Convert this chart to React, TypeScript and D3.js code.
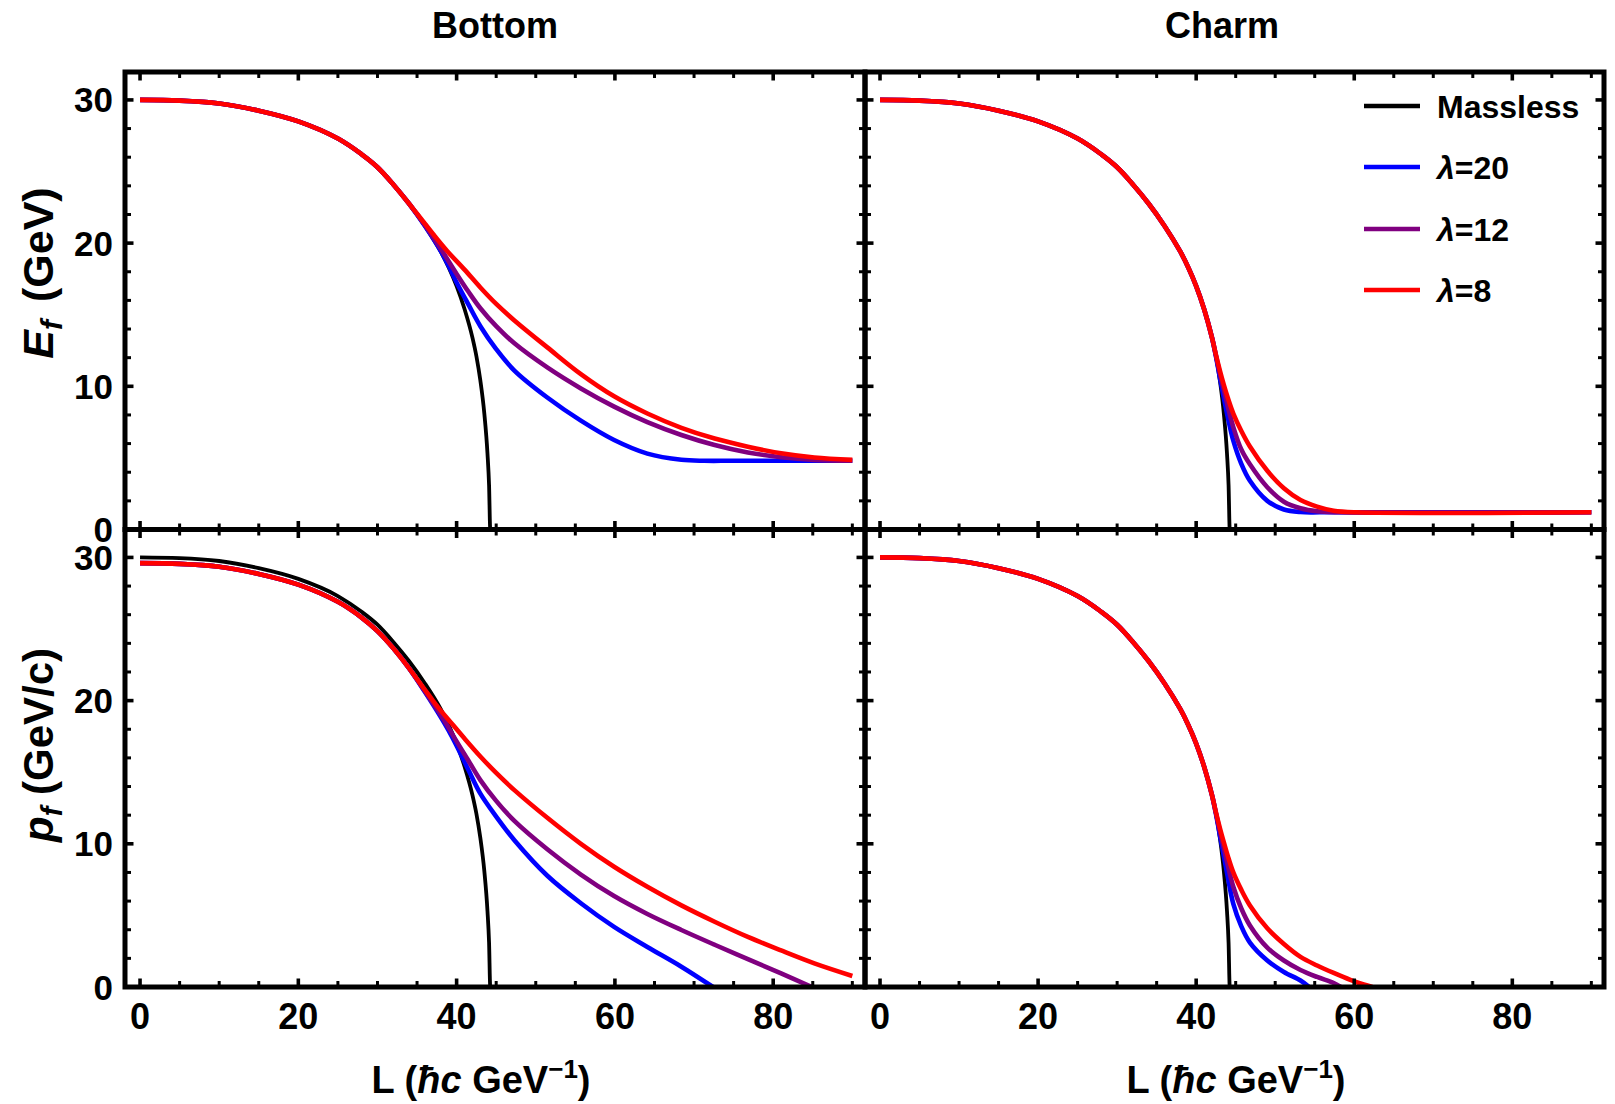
import React from "react";
import * as d3 from "d3";

// ---------- data ----------
// Massless curve (same in every panel, p = E for a massless parton)
const masslessL = [0, 5, 10, 15, 20, 25, 28, 30, 32, 34, 36, 38, 39, 40, 41, 42, 42.5, 43, 43.5, 43.9, 44.1, 44.25, 60, 90];
const masslessV = [30, 29.95, 29.75, 29.25, 28.5, 27.3, 26.2, 25.3, 24.1, 22.75, 21.2, 19.4, 18.3, 17.0, 15.4, 13.4, 12.1, 10.4, 8.1, 5.3, 3.1, 0, 0, 0];

// Bottom quark, final energy E_f (identical to the massless curve up to L = 34)
const bottomE_blueL = [36, 38, 39, 40, 41.5, 43, 45, 47.3, 51.5, 55.7, 59.9, 64.1, 68.4, 71.3, 75, 90];
const bottomE_blueV = [21.2, 19.45, 18.4, 17.25, 15.7, 14.2, 12.6, 11.1, 9.2, 7.6, 6.25, 5.3, 4.87, 4.8, 4.8, 4.8];
const bottomE_purpleL = [36, 38, 40, 41.5, 43, 45, 47.3, 51.5, 55.7, 59.9, 64.1, 68.4, 72.6, 76.8, 81, 85.2, 90];
const bottomE_purpleV = [21.25, 19.6, 17.85, 16.6, 15.45, 14.2, 13.0, 11.3, 9.85, 8.58, 7.5, 6.6, 5.9, 5.38, 5.05, 4.86, 4.8];
const bottomE_redL = [35, 36, 37, 38.8, 41, 43, 45, 47.3, 51.5, 55.7, 59.9, 64.1, 68.4, 72.6, 76.8, 81, 85.2, 90];
const bottomE_redV = [22.05, 21.35, 20.65, 19.45, 18.15, 16.9, 15.75, 14.6, 12.7, 10.85, 9.3, 8.1, 7.1, 6.35, 5.78, 5.32, 5.03, 4.86];

// Bottom quark, final momentum p_f (massive curves share a common start)
const bottomP_commonL = [0, 5, 10, 15, 20, 25, 28, 30, 32, 34];
const bottomP_commonV = [29.6, 29.55, 29.35, 28.85, 28.1, 26.9, 25.8, 24.85, 23.65, 22.25];
const bottomP_blueL = [36, 38, 39, 40, 41.5, 43, 45, 47.3, 51.5, 55.7, 59.9, 64.1, 68.4, 72.4];
const bottomP_blueV = [20.6, 18.85, 17.9, 16.85, 15.15, 13.5, 11.9, 10.25, 7.75, 5.85, 4.2, 2.8, 1.42, 0];
const bottomP_purpleL = [36, 38, 39, 40, 41.5, 43, 45, 47.3, 51.5, 55.7, 59.9, 64.1, 68.4, 72.6, 76.8, 81, 84.9];
const bottomP_purpleV = [20.65, 19.0, 18.1, 17.15, 15.8, 14.45, 13.0, 11.6, 9.6, 7.85, 6.35, 5.1, 3.98, 2.95, 1.95, 0.95, 0];
const bottomP_redL = [35, 36, 37, 38, 39, 41, 43, 45, 47.3, 51.5, 55.7, 59.9, 64.1, 68.4, 72.6, 76.8, 81, 85.2, 90];
const bottomP_redV = [21.5, 20.75, 20.0, 19.3, 18.65, 17.35, 16.1, 14.95, 13.75, 11.8, 10.0, 8.4, 7.0, 5.7, 4.56, 3.5, 2.55, 1.65, 0.77];

// Charm quark, final energy E_f (identical to the massless curve up to L = 42)
const charmE_blueL = [42.5, 43, 43.5, 44, 44.7, 45.7, 46.8, 49, 51.1, 53.2, 56, 90];
const charmE_blueV = [12.1, 10.6, 9.2, 7.85, 6.2, 4.6, 3.4, 2.0, 1.4, 1.22, 1.2, 1.2];
const charmE_purpleL = [42.5, 43, 43.5, 44, 44.7, 45.7, 46.8, 49, 51.1, 53.2, 55.3, 58, 90];
const charmE_purpleV = [12.15, 10.9, 9.75, 8.6, 7.15, 5.6, 4.55, 2.95, 1.94, 1.48, 1.27, 1.2, 1.2];
const charmE_redL = [42.5, 43, 43.5, 44, 44.7, 45.7, 46.8, 49, 51.1, 53.2, 55.3, 57.4, 60.3, 90];
const charmE_redV = [12.2, 11.1, 10.1, 9.2, 8.1, 6.9, 5.8, 4.1, 2.88, 2.06, 1.6, 1.31, 1.2, 1.2];

// Charm quark, final momentum p_f (identical to the massless curve up to L = 42)
const charmP_blueL = [42.5, 43, 43.5, 44, 44.7, 45.7, 46.8, 49, 51.1, 53.2, 54.3];
const charmP_blueV = [12.1, 10.6, 9.15, 7.7, 5.8, 4.25, 3.1, 1.85, 1.05, 0.45, 0];
const charmP_purpleL = [42.5, 43, 43.5, 44, 44.7, 45.7, 46.8, 49, 51.1, 53.2, 55.3, 57.4, 58.3];
const charmP_purpleV = [12.15, 10.9, 9.7, 8.5, 7.0, 5.5, 4.3, 2.75, 1.85, 1.19, 0.7, 0.28, 0];
const charmP_redL = [42.5, 43, 43.5, 44, 44.7, 45.7, 46.8, 49, 51.1, 53.2, 55.3, 57.4, 59.5, 61.2, 62.3];
const charmP_redV = [12.2, 11.1, 10.1, 9.15, 8.0, 6.8, 5.7, 4.1, 3.0, 2.1, 1.5, 0.98, 0.5, 0.17, 0];

const seriesNames = ["Massless", "λ=20", "λ=12", "λ=8"];
const seriesColors = ["#000000", "#0000ff", "#800080", "#ff0000"];
const columnTitles = ["Bottom", "Charm"];
const xMajorTicks = [0, 20, 40, 60, 80];
const yMajorTicks = [0, 10, 20, 30];

// ---------- layout ----------
const W = 1615;
const H = 1104;
const colX: [number, number][] = [[125, 865], [865, 1604]];
const rowY: [number, number][] = [[72, 529.5], [529.5, 987]];
const xDomain: [number, number] = [-1.9, 91.6];
const yDomain: [number, number] = [0, 31.95];
const FONT = "'Liberation Sans', Arial, Helvetica, sans-serif";

type Pt = [number, number];
const zip = (L: number[], V: number[]): Pt[] => L.map((l, i) => [l, V[i]] as Pt);
const massless = zip(masslessL, masslessV);
const masslessUpTo = (lMax: number) => massless.filter((d) => d[0] <= lMax);
const bottomPCommon = zip(bottomP_commonL, bottomP_commonV);

const panels: { row: number; col: number; data: Pt[][] }[] = [
  {
    row: 0,
    col: 0,
    data: [
      massless,
      [...masslessUpTo(34), ...zip(bottomE_blueL, bottomE_blueV)],
      [...masslessUpTo(34), ...zip(bottomE_purpleL, bottomE_purpleV)],
      [...masslessUpTo(34), ...zip(bottomE_redL, bottomE_redV)],
    ],
  },
  {
    row: 0,
    col: 1,
    data: [
      massless,
      [...masslessUpTo(42), ...zip(charmE_blueL, charmE_blueV)],
      [...masslessUpTo(42), ...zip(charmE_purpleL, charmE_purpleV)],
      [...masslessUpTo(42), ...zip(charmE_redL, charmE_redV)],
    ],
  },
  {
    row: 1,
    col: 0,
    data: [
      massless,
      [...bottomPCommon, ...zip(bottomP_blueL, bottomP_blueV)],
      [...bottomPCommon, ...zip(bottomP_purpleL, bottomP_purpleV)],
      [...bottomPCommon, ...zip(bottomP_redL, bottomP_redV)],
    ],
  },
  {
    row: 1,
    col: 1,
    data: [
      massless,
      [...masslessUpTo(42), ...zip(charmP_blueL, charmP_blueV)],
      [...masslessUpTo(42), ...zip(charmP_purpleL, charmP_purpleV)],
      [...masslessUpTo(42), ...zip(charmP_redL, charmP_redV)],
    ],
  },
];

function Panel({ row, col, data }: { row: number; col: number; data: Pt[][] }) {
  const [x0, x1] = colX[col];
  const [y0, y1] = rowY[row];
  const x = d3.scaleLinear().domain(xDomain).range([x0, x1]);
  const y = d3.scaleLinear().domain(yDomain).range([y1, y0]);
  const smooth = d3
    .line<Pt>()
    .x((d) => x(d[0]))
    .y((d) => y(d[1]))
    .curve(d3.curveCatmullRom.alpha(0.5));
  const steep = d3
    .line<Pt>()
    .x((d) => x(d[0]))
    .y((d) => y(d[1]))
    .curve(d3.curveMonotoneX);
  const clipId = `clip-${row}-${col}`;
  const xMinor = d3.range(0, 91, 5).filter((v) => !xMajorTicks.includes(v));
  const yMinor = d3.range(0, 31, 2).filter((v) => !yMajorTicks.includes(v));
  const MAJ = 8.5;
  const MIN = 6;
  const ticks: JSX.Element[] = [];
  const addX = (v: number, len: number, w: number, key: string) => {
    ticks.push(<line key={key + "b"} x1={x(v)} x2={x(v)} y1={y1} y2={y1 - len} stroke="#000" strokeWidth={w} />);
    ticks.push(<line key={key + "t"} x1={x(v)} x2={x(v)} y1={y0} y2={y0 + len} stroke="#000" strokeWidth={w} />);
  };
  const addY = (v: number, len: number, w: number, key: string) => {
    ticks.push(<line key={key + "l"} x1={x0} x2={x0 + len} y1={y(v)} y2={y(v)} stroke="#000" strokeWidth={w} />);
    ticks.push(<line key={key + "r"} x1={x1} x2={x1 - len} y1={y(v)} y2={y(v)} stroke="#000" strokeWidth={w} />);
  };
  xMajorTicks.forEach((v) => addX(v, MAJ, 3.6, `xM${v}`));
  xMinor.forEach((v) => addX(v, MIN, 3, `xm${v}`));
  yMajorTicks.forEach((v) => addY(v, MAJ, 3.6, `yM${v}`));
  yMinor.forEach((v) => addY(v, MIN, 3, `ym${v}`));

  return (
    <g>
      <defs>
        <clipPath id={clipId}>
          <rect x={x0} y={y0} width={x1 - x0} height={y1 - y0} />
        </clipPath>
      </defs>
      <g clipPath={`url(#${clipId})`}>
        {data.map((s, i) => (
          <path
            key={i}
            d={(i === 0 ? steep(s) : smooth(s)) || ""}
            fill="none"
            stroke={seriesColors[i]}
            strokeWidth={i === 0 ? 3.8 : 4.6}
            strokeLinejoin="round"
            strokeLinecap="butt"
          />
        ))}
      </g>
      {ticks}
      <rect x={x0} y={y0} width={x1 - x0} height={y1 - y0} fill="none" stroke="#000" strokeWidth={5} />
      {col === 0 &&
        yMajorTicks.map((v) => (
          <text key={`yl${v}`} x={113} y={y(v) + 12.5} textAnchor="end" fontFamily={FONT} fontWeight="bold" fontSize={35}>
            {v}
          </text>
        ))}
      {row === 1 &&
        xMajorTicks.map((v) => (
          <text key={`xl${v}`} x={x(v)} y={1029} textAnchor="middle" fontFamily={FONT} fontWeight="bold" fontSize={36}>
            {v}
          </text>
        ))}
    </g>
  );
}

function Legend() {
  const rows = [106, 167, 229, 290];
  return (
    <g>
      {seriesNames.map((name, i) => (
        <g key={name}>
          <line x1={1364} x2={1420} y1={rows[i]} y2={rows[i]} stroke={seriesColors[i]} strokeWidth={4.6} />
          <text x={1437} y={rows[i] + 11.5} fontFamily={FONT} fontWeight="bold" fontSize={32}>
            {name.startsWith("λ") ? (
              <>
                <tspan fontStyle="italic">λ</tspan>
                <tspan>{name.slice(1)}</tspan>
              </>
            ) : (
              name
            )}
          </text>
        </g>
      ))}
    </g>
  );
}

function XLabel({ cx }: { cx: number }) {
  return (
    <text x={cx} y={1093} textAnchor="middle" fontFamily={FONT} fontWeight="bold" fontSize={38}>
      <tspan>L (</tspan>
      <tspan fontStyle="italic">ħc</tspan>
      <tspan> GeV</tspan>
      <tspan fontSize={26} dy={-15}>−1</tspan>
      <tspan dy={15}>)</tspan>
    </text>
  );
}

export default function App() {
  return (
    <svg width={W} height={H} style={{ position: "absolute", left: 0, top: 0, background: "#fff" }}>
      <rect x={0} y={0} width={W} height={H} fill="#fff" />
      {panels.map((p) => (
        <Panel key={`${p.row}-${p.col}`} row={p.row} col={p.col} data={p.data} />
      ))}
      <text x={495} y={38} textAnchor="middle" fontFamily={FONT} fontWeight="bold" fontSize={36}>
        {columnTitles[0]}
      </text>
      <text x={1222} y={38} textAnchor="middle" fontFamily={FONT} fontWeight="bold" fontSize={36}>
        {columnTitles[1]}
      </text>
      <Legend />
      <text transform="translate(53,273) rotate(-90)" textAnchor="middle" fontFamily={FONT} fontWeight="bold" fontSize={43}>
        <tspan fontStyle="italic">E</tspan>
        <tspan fontStyle="italic" fontSize={30} dy={9}>f</tspan>
        <tspan dy={-9} dx={6}> (GeV)</tspan>
      </text>
      <text transform="translate(53,745) rotate(-90)" textAnchor="middle" fontFamily={FONT} fontWeight="bold" fontSize={42}>
        <tspan fontStyle="italic">p</tspan>
        <tspan fontStyle="italic" fontSize={29} dy={9}>f</tspan>
        <tspan dy={-9}> (GeV/c)</tspan>
      </text>
      <XLabel cx={481} />
      <XLabel cx={1236} />
    </svg>
  );
}
